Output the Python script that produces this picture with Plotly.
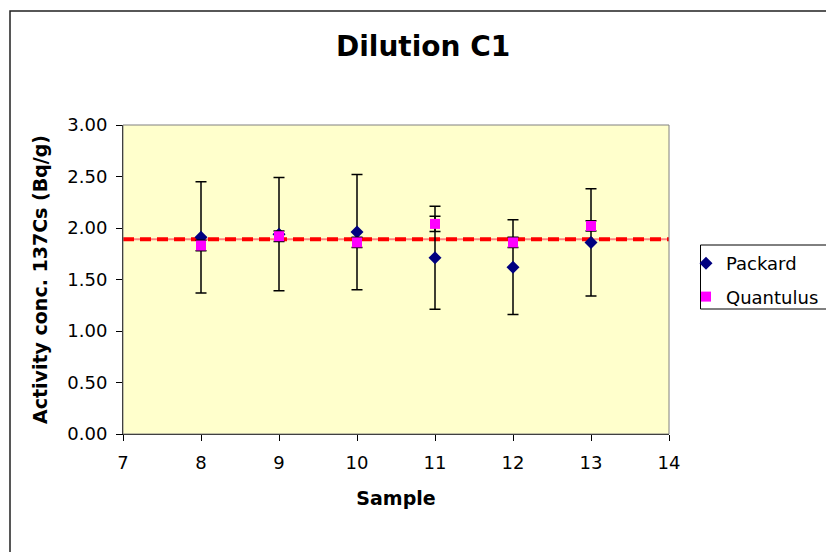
import plotly.graph_objects as go

samples = [8, 9, 10, 11, 12, 13]
packard = [1.91, 1.94, 1.96, 1.71, 1.62, 1.86]
packard_err = [0.54, 0.55, 0.56, 0.50, 0.46, 0.52]
quantulus = [1.83, 1.92, 1.86, 2.04, 1.86, 2.02]
quantulus_err = [0.05, 0.05, 0.05, 0.075, 0.05, 0.05]
ref_value = 1.89
x_range = [7, 14]
y_range = [0, 3]
y_ticks = [0, 0.5, 1.0, 1.5, 2.0, 2.5, 3.0]

FONT = "Verdana, DejaVu Sans, sans-serif"

fig = go.Figure()

# reference line (light underlay + red dashes)
fig.add_trace(go.Scatter(x=x_range, y=[ref_value, ref_value], mode="lines",
                         line=dict(color="#FF8080", width=2), showlegend=False, hoverinfo="skip"))
fig.add_trace(go.Scatter(x=x_range, y=[ref_value, ref_value], mode="lines",
                         line=dict(color="#FF0000", width=4, dash="11px,6px"),
                         showlegend=False, hoverinfo="skip"))

fig.add_trace(go.Scatter(
    x=samples, y=packard, mode="markers", name="Packard", legendgroup="a",
    marker=dict(symbol="diamond", size=10, color="#000080"),
    error_y=dict(type="data", array=packard_err, color="black", thickness=1.5, width=5.5),
))
fig.add_trace(go.Scatter(
    x=samples, y=quantulus, mode="markers", name="Quantulus", legendgroup="b",
    marker=dict(symbol="square", size=10, color="#FF00FF"),
    error_y=dict(type="data", array=quantulus_err, color="black", thickness=1.5, width=5.5),
))

W, H = 826, 552
# plot area in page pixels
PX0, PX1, PY0, PY1 = 123, 669, 125, 434
L, T = PX0, PY0
R = W - PX1
B = H - PY1
pw, ph = PX1 - PX0, PY1 - PY0

def px_x(p):
    return (p - PX0) / pw

def px_y(p):
    return (PY1 - p) / ph

shapes = [
    # plot area border
    dict(type="rect", xref="paper", yref="paper", x0=0, x1=1, y0=0, y1=1,
         line=dict(color="#808080", width=1), layer="above"),
    # chart outer border
    dict(type="rect", xref="paper", yref="paper", x0=px_x(10), x1=px_x(860),
         y0=px_y(600), y1=px_y(11), line=dict(color="#202020", width=1.5)),
    # legend border
    dict(type="rect", xref="paper", yref="paper", x0=px_x(700.5), x1=px_x(860),
         y0=px_y(309), y1=px_y(245), line=dict(color="black", width=1)),
]

fig.update_layout(
    width=W, height=H,
    margin=dict(l=L, r=R, t=T, b=B, autoexpand=False),
    paper_bgcolor="white",
    plot_bgcolor="#FFFFCC",
    font=dict(family=FONT, size=18, color="black"),
    shapes=shapes,
    showlegend=True,
    legend=dict(x=px_x(686), y=px_y(245), xanchor="left", yanchor="top",
                borderwidth=0, bgcolor="rgba(0,0,0,0)",
                font=dict(family=FONT, size=18), tracegroupgap=7,
                itemwidth=30),
    annotations=[
        dict(text="<b>Dilution C1</b>", xref="paper", yref="paper",
             x=px_x(423), y=px_y(47), showarrow=False,
             font=dict(family=FONT, size=28), xanchor="center", yanchor="middle"),
    ],
)

fig.update_xaxes(range=x_range, tickmode="array", tickvals=list(range(7, 15)),
                 showgrid=False, zeroline=False, showline=True, linecolor="black",
                 ticks="outside", ticklen=6, tickcolor="black", ticklabelstandoff=6,
                 title=dict(text="<b>Sample</b>", font=dict(family=FONT, size=19), standoff=20),
                 tickfont=dict(family=FONT, size=18))
fig.update_yaxes(range=y_range, tickmode="array", tickvals=y_ticks,
                 ticktext=[f"{v:.2f}" for v in y_ticks],
                 showgrid=False, zeroline=False, showline=True, linecolor="black",
                 ticks="outside", ticklen=6, tickcolor="black", ticklabelstandoff=5,
                 title=dict(text="<b>Activity conc. 137Cs (Bq/g)</b>", font=dict(family=FONT, size=19), standoff=14),
                 tickfont=dict(family=FONT, size=18))

fig.write_html("out.html", config={"displayModeBar": False},
               post_script="document.body.style.margin='0';document.body.style.overflow='hidden';")
